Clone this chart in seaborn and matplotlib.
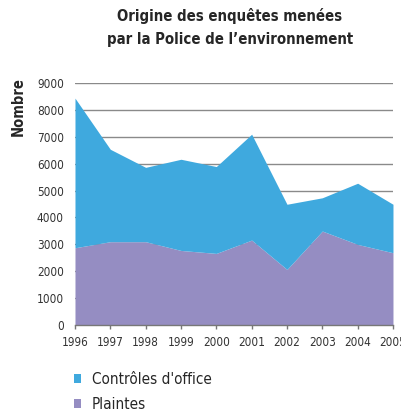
import numpy as np
import pandas as pd
import matplotlib
matplotlib.use("Agg")
import matplotlib.pyplot as plt
from matplotlib.patches import Patch
import seaborn as sns

# Data
years = [1996, 1997, 1998, 1999, 2000, 2001, 2002, 2003, 2004, 2005]
plaintes = [2875, 3100, 3100, 2775, 2665, 3160, 2070, 3495, 3000, 2690]
controles = [5555, 3430, 2760, 3385, 3225, 3930, 2420, 1235, 2270, 1800]
y_ticks = [0, 1000, 2000, 3000, 4000, 5000, 6000, 7000, 8000, 9000]

df = pd.DataFrame({"annee": years, "Plaintes": plaintes, "Contrôles d'office": controles})

sns.set_style("white")
plt.rcParams['font.family'] = ['DejaVu Sans']
plt.rcParams['font.stretch'] = 'condensed'

col_blue = "#3fa9de"
col_purple = "#958dc2"

fig = plt.figure(figsize=(4.01, 4.18), dpi=100)
ax = fig.add_axes([0.187, 0.222, 0.793, 0.58])

ax.stackplot(df["annee"], df["Plaintes"], df["Contrôles d'office"],
             colors=[col_purple, col_blue], linewidth=0, zorder=2)

ax.set_xlim(1996, 2005)
ax.set_ylim(0, 9000)
ax.set_yticks(y_ticks)
ax.set_xticks(years)
ax.set_xticklabels([str(y) for y in years], fontsize=8.5, color="#333333")
ax.set_yticklabels([str(v) for v in y_ticks], fontsize=8.5, color="#333333")
for v in y_ticks[1:]:
    ax.axhline(v, color="#8a8a8a", linewidth=1, zorder=1)

sns.despine(ax=ax, left=True, top=True, right=True)
ax.spines['bottom'].set_color("#777777")
ax.spines['bottom'].set_linewidth(1)
ax.spines['bottom'].set_zorder(3)
ax.tick_params(axis='x', length=3, width=1, color="#777777", direction='out', bottom=True, pad=5)
ax.tick_params(axis='y', length=0, pad=8)

ax.set_ylabel("Nombre", fontsize=10.5, fontweight='bold')
ax.yaxis.set_label_coords(-0.155, 0.9)

fig.text(0.573, 0.98, "Origine des enquêtes menées\npar la Police de l\u2019environnement",
         ha='center', va='top', fontsize=10.7, fontweight='bold', linespacing=1.6)

handles = [Patch(facecolor=col_blue, edgecolor='none'),
           Patch(facecolor=col_purple, edgecolor='none')]
fig.legend(handles, ["Contrôles d'office", "Plaintes"], loc='upper left',
           bbox_to_anchor=(0.172, 0.121), frameon=False, fontsize=11,
           handlelength=0.5, handleheight=0.5, handletextpad=0.7, labelspacing=0.65,
           borderaxespad=0, borderpad=0.3)

fig.savefig("out.png", dpi=100)
